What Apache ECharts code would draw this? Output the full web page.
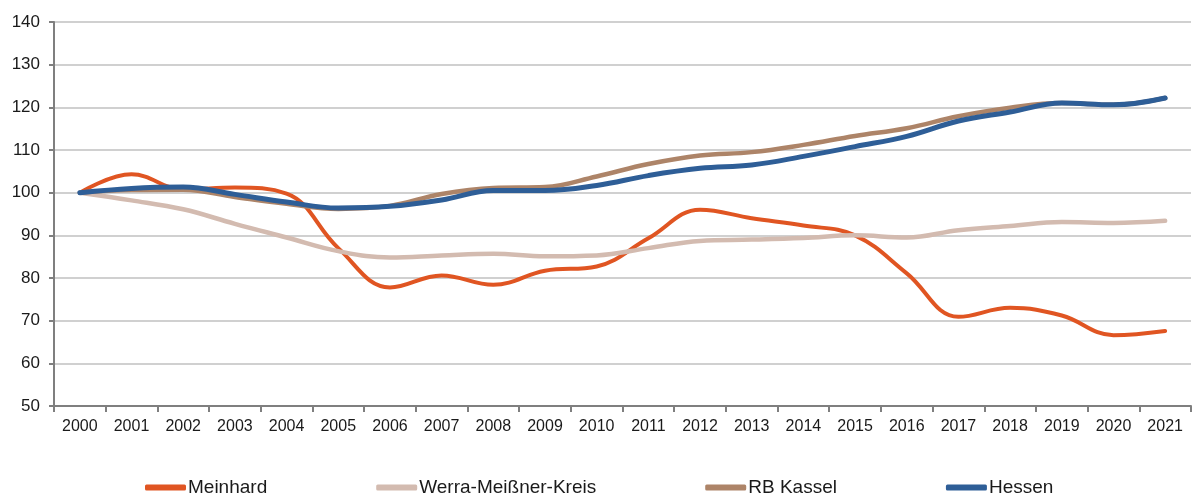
<!DOCTYPE html>
<html>
<head>
<meta charset="utf-8">
<script src="https://cdn.jsdelivr.net/npm/echarts@6/dist/echarts.min.js"></script>
<style>html,body{margin:0;padding:0;background:#fff;}#c{width:1195px;height:497px;}</style>
</head>
<body>
<div id="c"></div>
<script>
var years = ['2000','2001','2002','2003','2004','2005','2006','2007','2008','2009','2010','2011','2012','2013','2014','2015','2016','2017','2018','2019','2020','2021'];
var meinhard = [100, 104.3, 100.8, 101.2, 99.8, 87, 77.8, 80.6, 78.4, 81.7, 82.7, 89.3, 96, 94, 92.3, 90, 81.1, 70.9, 73, 71.2, 66.6, 67.6];
var werra = [100, 98.2, 96.1, 92.7, 89.5, 86.3, 84.8, 85.3, 85.7, 85.1, 85.3, 87, 88.7, 89, 89.4, 90, 89.5, 91.2, 92.2, 93.1, 92.9, 93.4];
var rbKassel = [100, 100.6, 100.7, 99.0, 97.4, 96.2, 96.9, 99.7, 101.1, 101.3, 103.8, 106.7, 108.7, 109.5, 111.2, 113.3, 115.1, 117.9, 119.9, 121, 120.6, 122.2];
var hessen = [100, 101, 101.3, 99.6, 97.8, 96.4, 96.8, 98.3, 100.5, 100.5, 101.7, 104, 105.7, 106.5, 108.5, 110.8, 113.2, 116.8, 118.9, 121, 120.6, 122.2];
var seriesNames = ['Meinhard', 'Werra-Meißner-Kreis', 'RB Kassel', 'Hessen'];
var colors = ['#E05522', '#D3BBB0', '#AD8468', '#2E5E97'];

var chart = echarts.init(document.getElementById('c'));
var dataSets = [meinhard, werra, rbKassel, hessen];
var widths = [4, 4.5, 4.5, 5];
chart.setOption({
  animation: false,
  color: colors,
  grid: {left: 54, right: 4, top: 22, bottom: 91},
  legend: {
    data: seriesNames,
    left: 145,
    bottom: 0,
    padding: 0,
    icon: 'roundRect',
    itemWidth: 41,
    itemHeight: 6,
    itemGap: 109,
    textStyle: {fontFamily: 'Liberation Sans', fontSize: 19, color: '#1a1a1a', padding: [0, 0, 0, -3]}
  },
  xAxis: {
    type: 'category',
    data: years,
    boundaryGap: true,
    axisLine: {lineStyle: {color: '#7f7f7f', width: 2}},
    axisTick: {show: true, length: 6, lineStyle: {color: '#7f7f7f', width: 2}},
    axisLabel: {fontFamily: 'Liberation Sans', fontSize: 16, color: '#1a1a1a', margin: 13}
  },
  yAxis: {
    type: 'value',
    min: 50, max: 140, interval: 10,
    axisLine: {show: true, lineStyle: {color: '#7f7f7f', width: 2}},
    axisTick: {show: true, length: 5, lineStyle: {color: '#7f7f7f', width: 2}},
    axisLabel: {fontFamily: 'Liberation Sans', fontSize: 17, color: '#1a1a1a', margin: 14},
    splitLine: {lineStyle: {color: '#c0c0c0', width: 1.5}}
  },
  series: dataSets.map(function (d, i) {
    return {
      name: seriesNames[i],
      type: 'line',
      data: d,
      smooth: 0.4,
      symbol: 'none',
      lineStyle: {width: widths[i], color: colors[i], cap: 'round'},
      itemStyle: {color: colors[i]},
      z: 2 + i
    };
  })
});
</script>
</body>
</html>
